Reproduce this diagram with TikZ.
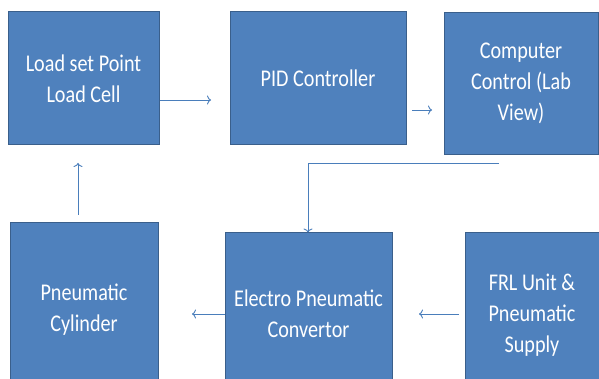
\documentclass[tikz,border=0pt]{standalone}
\usepackage{fontspec}
\setmainfont{Carlito}[FakeStretch=0.84]
\usetikzlibrary{arrows.meta}
\definecolor{boxfill}{HTML}{4F81BD}
\definecolor{boxline}{HTML}{3A5F8B}
\definecolor{arrowc}{HTML}{4A7EBB}
\tikzset{
  box/.style={draw=boxline, line width=1pt, fill=boxfill, text=white, align=center,
    inner sep=0pt, font=\fontsize{24}{31}\selectfont},
  flow/.style={draw=arrowc, line width=0.9pt, -{To[length=4pt,width=9pt]}}
}
\begin{document}
\begin{tikzpicture}[x=1pt,y=-1pt]
\useasboundingbox (0,0) rectangle (599,379);
\clip (0,0) rectangle (599,379);
\fill[white] (0,0) rectangle (599,379);
\node[box, minimum width=151pt, minimum height=133pt] (lc) at (83.5,78.5) {Load set Point\\Load Cell};
\node[box, minimum width=176pt, minimum height=133pt] (pid) at (318,78.5) {PID Controller};
\node[box, minimum width=154pt, minimum height=142pt] (pc) at (521,83.5) {Computer\\Control (Lab\\View)};
\node[box, minimum width=148pt, minimum height=174pt] (cyl) at (84,310) {Pneumatic\\Cylinder};
\node[box, minimum width=167pt, minimum height=162pt] (epc) at (308.5,314) {Electro Pneumatic\\Convertor};
\node[box, minimum width=134pt, minimum height=164pt] (frl) at (532,315) {FRL Unit \&\\Pneumatic\\Supply};
\coordinate (a1) at (211,100);
\coordinate (a2s) at (412,110);
\coordinate (a2e) at (432,110);
\coordinate (a3s) at (499,163);
\coordinate (a4e) at (192,314);
\coordinate (a5s) at (459,314);
\coordinate (a5e) at (419,314);
\coordinate (a6s) at (78,215);
\coordinate (a6e) at (78,163);
\draw[flow] (lc.east |- a1) -- (a1);
\draw[flow] (a2s) -- (a2e);
\draw[flow] (a3s) -- (308,163) -- (epc.north -| 308,0);
\draw[flow] (epc.west |- a4e) -- (a4e);
\draw[flow] (a5s) -- (a5e);
\draw[flow] (a6s) -- (a6e);
\end{tikzpicture}
\end{document}
